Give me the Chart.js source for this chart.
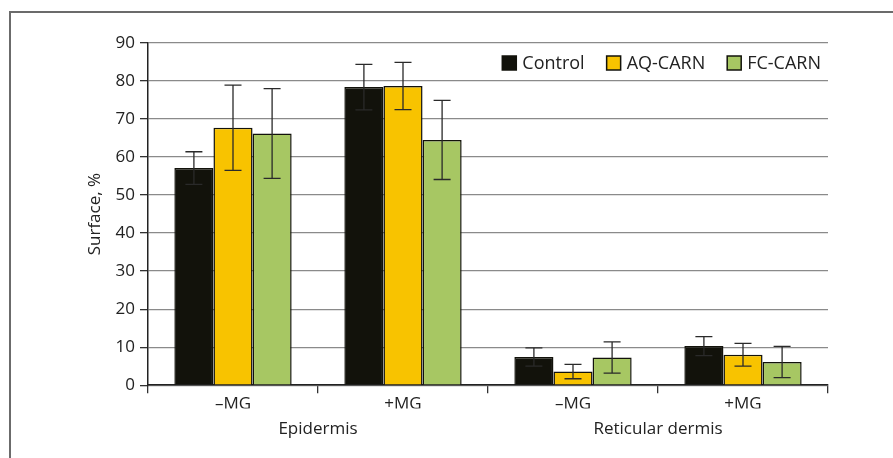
<!DOCTYPE html>
<html>
<head>
<meta charset="utf-8">
<script src="https://cdn.jsdelivr.net/npm/chart.js@4.4.0/dist/chart.umd.min.js"></script>
<style>
  body { margin: 0; background: #fff; }
  .frame { position: absolute; left: 9px; top: 11px; width: 1000px; height: 600px; border: 2px solid #6b6b6b; }
  .wrap { position: absolute; left: 0; top: 0; width: 893px; height: 458px; }
</style>
</head>
<body>
<div class="frame"></div>
<div class="wrap"><canvas id="surfaceChart" width="893" height="458"></canvas></div>
<script>
// Surface chart data
let subLabels = ["\u2013MG", "+MG", "\u2013MG", "+MG"];
let groupLabels = ["Epidermis", "Reticular dermis"];
let controlArr = [57.1, 78.4, 7.4, 10.3];
let controlErr = [4.3, 6.0, 2.4, 2.5];
let aqArr = [67.7, 78.7, 3.6, 8.0];
let aqErr = [11.2, 6.2, 1.9, 3.0];
let fcArr = [66.2, 64.5, 7.3, 6.1];
let fcErr = [11.8, 10.4, 4.1, 4.1];

const errorBars = {
    id: 'errorBars',
    afterDatasetsDraw(chart) {
        const ctx = chart.ctx;
        const yScale = chart.scales.y;
        ctx.save();
        ctx.strokeStyle = '#2a2a2a';
        ctx.lineWidth = 1.3;
        chart.data.datasets.forEach((ds, i) => {
            const meta = chart.getDatasetMeta(i);
            meta.data.forEach((bar, j) => {
                const v = ds.data[j], e = ds.errors[j];
                const yTop = yScale.getPixelForValue(v + e);
                const yBot = yScale.getPixelForValue(v - e);
                const cap = 8.5;
                ctx.beginPath();
                ctx.moveTo(bar.x, yTop); ctx.lineTo(bar.x, yBot);
                ctx.moveTo(bar.x - cap, yTop); ctx.lineTo(bar.x + cap, yTop);
                ctx.moveTo(bar.x - cap, yBot); ctx.lineTo(bar.x + cap, yBot);
                ctx.stroke();
            });
        });
        ctx.restore();
    }
};

// legend drawn inside the plot, top right
const innerLegend = {
    id: 'innerLegend',
    afterDatasetsDraw(chart) {
        const ctx = chart.ctx;
        const area = chart.chartArea;
        const box = 14, gap = 6, itemGap = 22;
        const cy = area.top + 20;
        ctx.save();
        ctx.font = "18px 'Open Sans', 'Noto Sans', sans-serif";
        ctx.textBaseline = 'middle';
        ctx.fillStyle = '#222';
        const items = chart.data.datasets.map(ds => ({
            ds: ds, w: box + gap + ctx.measureText(ds.label).width
        }));
        let x = area.right - 7;
        for (let k = items.length - 1; k >= 0; k--) x -= items[k].w + (k < items.length - 1 ? itemGap : 0);
        items.forEach(it => {
            ctx.fillStyle = it.ds.backgroundColor;
            ctx.fillRect(x, cy - box / 2, box, box);
            ctx.strokeStyle = it.ds.borderColor;
            ctx.lineWidth = 1.5;
            ctx.strokeRect(x, cy - box / 2, box, box);
            ctx.fillStyle = '#222';
            ctx.fillText(it.ds.label, x + box + gap, cy + 1);
            x += it.w + itemGap;
        });
        ctx.restore();
    }
};

Chart.defaults.font.family = "'Open Sans', 'Noto Sans', sans-serif";
Chart.defaults.font.size = 17;
Chart.defaults.color = '#222';

const ct1 = document.getElementById('surfaceChart').getContext('2d');
const surfaceChart = new Chart(ct1, {
    type: 'bar',
    data: {
        labels: subLabels,
        datasets: [{
            label: 'Control',
            data: controlArr,
            errors: controlErr,
            backgroundColor: '#12120b',
            borderColor: '#12120b',
            borderWidth: 1.5
        }, {
            label: 'AQ-CARN',
            data: aqArr,
            errors: aqErr,
            backgroundColor: '#f8c300',
            borderColor: '#12120b',
            borderWidth: 1.5
        }, {
            label: 'FC-CARN',
            data: fcArr,
            errors: fcErr,
            backgroundColor: '#a7c763',
            borderColor: '#12120b',
            borderWidth: 1.5
        }]
    },
    options: {
        responsive: false,
        animation: false,
        categoryPercentage: 0.69,
        barPercentage: 1.0,
        layout: {
            padding: { left: 81, top: 43, right: 65, bottom: 17 }
        },
        scales: {
            x: {
                grid: {
                    drawOnChartArea: false,
                    tickLength: 8,
                    tickColor: '#333',
                    lineWidth: 1.3
                },
                border: { color: '#222', width: 1.5 },
                ticks: { padding: 1, color: '#222' },
                afterFit: (scale) => { scale.height = scale.height - 7; }
            },
            x2: {
                type: 'category',
                labels: groupLabels,
                position: 'bottom',
                offset: true,
                grid: { display: false },
                border: { display: false },
                ticks: { padding: 2, color: '#222' }
            },
            y: {
                min: 0,
                max: 90,
                ticks: { stepSize: 10, padding: 5, color: '#222' },
                grid: {
                    color: '#8a8a8a',
                    lineWidth: 1.3,
                    tickLength: 8,
                    tickColor: '#333'
                },
                border: { color: '#222', width: 1.5 },
                title: {
                    display: true,
                    text: 'Surface, %',
                    color: '#222',
                    font: { size: 17 }
                },
                afterFit: (scale) => { scale.width = 67; }
            }
        },
        plugins: {
            legend: { display: false },
            tooltip: { enabled: false }
        }
    },
    plugins: [errorBars, innerLegend]
});
</script>
</body>
</html>
